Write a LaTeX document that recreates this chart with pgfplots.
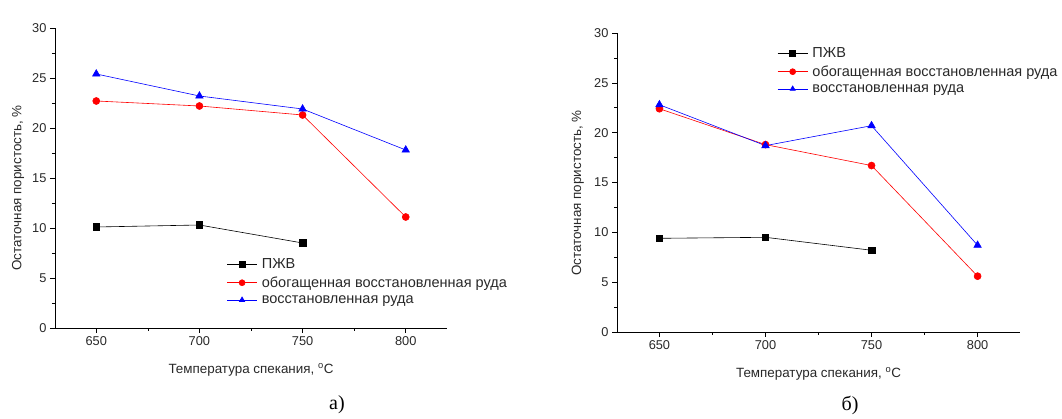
\documentclass[border=0pt]{standalone}
\usepackage{fontspec}
\setmainfont{Liberation Sans}
\newfontfamily\capfont{Liberation Serif}
\usepackage{pgfplots}
\pgfplotsset{compat=1.18}
\definecolor{txt}{RGB}{40,40,40}
\pgfplotsset{
  myax/.style={
    scale only axis,
    axis lines=left,
    axis line style={-, black},
    xmin=630, xmax=820, ymin=0, ymax=30,
    xtick={650,700,750,800},
    ytick={0,5,...,30},
    minor x tick num=1, minor y tick num=1,
    tick align=outside,
    major tick length=5pt, minor tick length=3pt,
    tick style={black, line width=0.6pt},
    /pgf/number format/assume math mode=true,
    ticklabel style={font=\fontsize{12.8}{14}\selectfont, text=txt},
    label style={font=\fontsize{13.4}{15}\selectfont, text=txt},
    xlabel={Температура спекания, \textsuperscript{o}C},
    ylabel={Остаточная пористость, \%},
    legend style={draw=none, fill=none, font=\fontsize{14.5}{16}\selectfont, text=txt,
      anchor=north west, row sep=5.5pt, column sep=4pt, nodes={inner sep=0.5pt}},
    legend cell align=left,
    legend image code/.code={\draw[mark repeat=2,mark phase=2, mark size=3pt] plot coordinates {(0pt,0pt) (15pt,0pt) (30pt,0pt)};},
    every axis plot/.append style={line width=0.6pt},
  },
  sblack/.style={black, mark=square*, mark size=3.3pt, mark options={solid}},
  sred/.style={red, mark=*, mark size=3.5pt},
  sblue/.style={blue, mark=triangle*, mark size=4.3pt},
}
\begin{document}
\begin{tikzpicture}
\path[use as bounding box] (0pt,0pt) rectangle (1062pt,419pt);
\begin{axis}[myax, at={(55pt,91pt)}, anchor=south west, width=392pt, height=300pt,
  xlabel style={at={(axis description cs:0.5,-0.14)}, anchor=center},
  ylabel style={at={(axis description cs:-0.094,0.467)}, anchor=center},
  legend style={at={(axis description cs:0.43,0.24)}}]
\addplot[sblack] coordinates {(650,10.1) (700,10.3) (750,8.5)};
\addlegendentry{ПЖВ}
\addplot[sred] coordinates {(650,22.7) (700,22.2) (750,21.3) (800,11.1)};
\addlegendentry{обогащенная восстановленная руда}
\addplot[sblue] coordinates {(650,25.4) (700,23.2) (750,21.9) (800,17.8)};
\addlegendentry{восстановленная руда}
\end{axis}
\begin{axis}[myax, at={(617pt,87pt)}, anchor=south west, width=403pt, height=299pt,
  xlabel style={at={(axis description cs:0.5,-0.14)}, anchor=center},
  ylabel style={at={(axis description cs:-0.097,0.465)}, anchor=center},
  legend style={at={(axis description cs:0.39,0.96)}}]
\addplot[sblack] coordinates {(650,9.4) (700,9.5) (750,8.2)};
\addlegendentry{ПЖВ}
\addplot[sred] coordinates {(650,22.4) (700,18.8) (750,16.7) (800,5.6)};
\addlegendentry{обогащенная восстановленная руда}
\addplot[sblue] coordinates {(650,22.8) (700,18.7) (750,20.7) (800,8.7)};
\addlegendentry{восстановленная руда}
\end{axis}
\node[font=\capfont\fontsize{20}{22}\selectfont] at (337pt,14pt) {а)};
\node[font=\capfont\fontsize{20}{22}\selectfont] at (850pt,14pt) {б)};
\end{tikzpicture}
\end{document}
